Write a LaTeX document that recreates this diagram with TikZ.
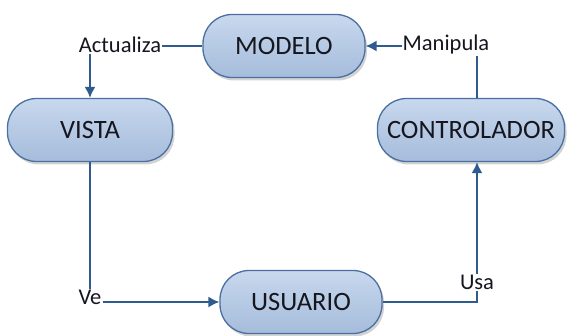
\documentclass[tikz,border=0pt]{standalone}
\usepackage{fontspec}
\setmainfont{Carlito}
\usetikzlibrary{arrows.meta,shadows,calc}
\definecolor{linea}{HTML}{2F5B8F}
\definecolor{borde}{HTML}{4A6FA0}
\definecolor{arriba}{HTML}{C8D8EE}
\definecolor{abajo}{HTML}{A5BCDB}
\definecolor{texto}{HTML}{16161F}
\begin{document}
\begin{tikzpicture}[x=1pt,y=1pt,>={Latex[length=11pt,width=11pt]},
	caja/.style={draw=borde,line width=1.3pt,rounded corners=29pt,top color=arriba,bottom color=abajo,
		drop shadow={shadow xshift=2pt,shadow yshift=-3pt,opacity=0.35},
		minimum height=63pt,text=texto,font=\fontsize{26.5}{29}\selectfont},
	etiq/.style={inner sep=1pt,text=texto,font=\fontsize{22.5}{25}\selectfont},
	flecha/.style={draw=linea,line width=1.6pt}]
	\useasboundingbox (0,0) rectangle (567,335);
	% cajas
	\node[caja,minimum width=162pt] (modelo) at (284,289) {MODELO};
	\node[caja,minimum width=165pt] (vista) at (90,205) {VISTA};
	\node[caja,minimum width=187pt] (controlador) at (471,205) {CONTROLADOR};
	\node[caja,minimum width=162pt] (usuario) at (301,33) {USUARIO};
	% etiquetas
	\node[etiq] (actualiza) at (120,290) {Actualiza};
	\node[etiq] (manipula) at (446,290) {Manipula};
	\node[etiq] (ve) at (90,38) {Ve};
	\node[etiq] (usa) at (477,53) {Usa};
	% conectores
	\draw[flecha] (modelo.west) -- (modelo.west -| actualiza.east);
	\draw[flecha,->] (actualiza.south -| vista.north) -- (vista.north);
	\draw[flecha] (vista.south) -- (ve.north);
	\draw[flecha,->] (ve.east |- usuario.west) -- (usuario.west);
	\draw[flecha] (usuario.east) -- (usa.south |- usuario.east) -- (usa.south);
	\draw[flecha,->] (usa.north) -- (usa.north |- controlador.south);
	\draw[flecha] (usa.north |- controlador.north) -- (usa.north |- manipula.south);
	\draw[flecha,->] (manipula.west |- modelo.east) -- (modelo.east);
\end{tikzpicture}
\end{document}
